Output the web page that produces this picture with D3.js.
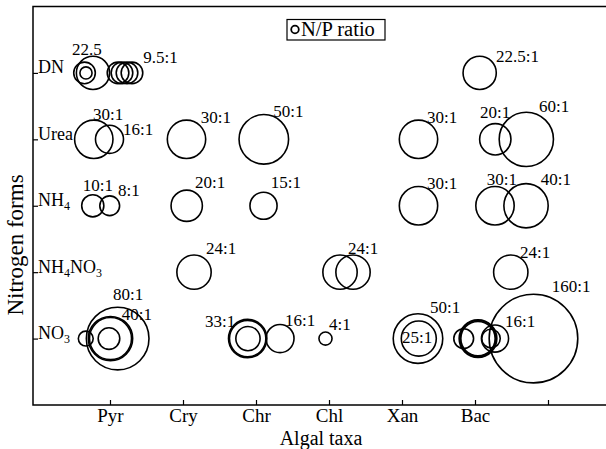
<!DOCTYPE html>
<html><head><meta charset="utf-8">
<script src="https://cdn.jsdelivr.net/npm/d3@7"></script>
<style>body{margin:0;background:#fff}svg{display:block}</style>
</head><body><svg id="c" width="606" height="449"></svg>
<script>
// ---- data ----
const taxa = ["Pyr", "Cry", "Chr", "Chl", "Xan", "Bac", ""];
const forms = ["NO3", "NH4NO3", "NH4", "Urea", "DN"]; // rows 1..5
// [x position in taxa units, N/P ratio]
const dnBubbles = [[0.767, 22.5], [0.651, 9.5], [0.671, 3], [1.110, 9.5], [1.164, 9.5], [1.233, 9.5], [1.301, 9.5], [6.064, 22.5]];
const ureaBubbles = [[0.778, 30], [0.993, 16], [2.048, 30], [3.107, 50], [5.226, 30], [6.278, 20], [6.703, 60]];
const nh4Bubbles = [[0.764, 10], [0.996, 8], [2.051, 20], [3.103, 15], [5.226, 30], [6.274, 30], [6.699, 40]];
const nh4no3Bubbles = [[2.151, 24], [4.151, 24], [4.329, 24], [6.490, 24]];
const no3Bubbles = [[0.668, 4.5], [1.105, 80], [1.007, 40], [1.007, 36], [0.986, 9.5], [2.886, 30], [2.886, 27], [2.890, 12], [3.329, 16], [3.952, 3.5], [5.219, 50], [5.230, 25], [5.845, 8], [6.041, 29], [6.041, 26.5], [6.041, 24], [6.219, 7], [6.274, 15], [6.801, 160]];
// annotation labels: [text, x (taxa units), y (row units)]
const ratioLabels = [
  ["22.5", 0.479, 5.269], ["9.5:1", 1.456, 5.144], ["22.5:1", 6.288, 5.169],
  ["30:1", 0.767, 4.291], ["16:1", 1.178, 4.065], ["30:1", 2.242, 4.246], ["50:1", 3.237, 4.341],
  ["30:1", 5.342, 4.246], ["20:1", 6.068, 4.321], ["60:1", 6.877, 4.416],
  ["10:1", 0.626, 3.222], ["8:1", 1.110, 3.151], ["20:1", 2.164, 3.267], ["15:1", 3.201, 3.267],
  ["30:1", 5.342, 3.252], ["30:1", 6.160, 3.312], ["40:1", 6.900, 3.312],
  ["24:1", 2.315, 2.273], ["24:1", 4.260, 2.273], ["24:1", 6.616, 2.213],
  ["80:1", 1.041, 1.581], ["40:1", 1.160, 1.280], ["33:1", 2.301, 1.179], ["16:1", 3.397, 1.189],
  ["4:1", 4.000, 1.129], ["50:1", 5.384, 1.390], ["25:1", 5.000, 0.933], ["16:1", 6.411, 1.170],
  ["160:1", 7.051, 1.706]
];
const legendLabel = "N/P ratio";
const xTitle = "Algal taxa", yTitle = "Nitrogen forms";

// ---- drawing ----
const svg = d3.select("#c");
svg.append("rect").attr("width", 606).attr("height", 449).attr("fill", "#fff");
const FONT = "'Liberation Serif','Times New Roman',serif";
const axisLeftX = 33, plotTop = 6.5, plotBottom = 405, plotRight = 640;
const x = d3.scaleLinear().domain([0, 8]).range([37, 37 + 8 * 73]);
const y = d3.scaleLinear().domain([0, 6]).range([plotBottom, plotTop]);
const r = d3.scaleSqrt().domain([0, 160]).range([0, 44.3]);

const rows = [no3Bubbles, nh4no3Bubbles, nh4Bubbles, ureaBubbles, dnBubbles];
const bubbles = rows.flatMap((arr, i) => arr.map(d => ({ x: d[0], v: d[1], row: i + 1 })));

// frame
svg.append("rect").attr("x", axisLeftX).attr("y", plotTop).attr("width", plotRight - axisLeftX).attr("height", plotBottom - plotTop)
  .attr("fill", "none").attr("stroke", "#000").attr("stroke-width", 1.5);

// x axis
const xAxis = svg.append("g").attr("transform", `translate(0,${plotBottom})`)
  .call(d3.axisBottom(x).tickValues(d3.range(1, 8)).tickFormat(i => taxa[i - 1]).tickSizeInner(-5).tickSizeOuter(0).tickPadding(4));
xAxis.select(".domain").remove();
xAxis.selectAll("line").attr("stroke-width", 1.2);
xAxis.selectAll("text").attr("font-family", FONT).attr("font-size", 19).attr("fill", "#000");

// y axis
const yAxis = svg.append("g").attr("transform", `translate(${axisLeftX},0)`)
  .call(d3.axisLeft(y).tickValues(d3.range(1, 6)).tickFormat(() => "").tickSizeInner(-5).tickSizeOuter(0));
yAxis.select(".domain").remove();
yAxis.selectAll("line").attr("stroke-width", 1.2);
yAxis.selectAll(".tick text").each(function (d) {
  const t = d3.select(this).attr("x", 5).attr("dy", "0.35em").attr("text-anchor", "start")
    .attr("font-family", FONT).attr("font-size", 18).attr("fill", "#000");
  const parts = forms[d - 1].match(/[A-Za-z]+|\d+/g);
  let prevSub = false;
  parts.forEach(p => {
    if (/^\d+$/.test(p)) { t.append("tspan").attr("font-size", 12).attr("dy", 4).text(p); prevSub = true; }
    else { t.append("tspan").attr("dy", prevSub ? -4 : 0).text(p); prevSub = false; }
  });
});

// bubbles
svg.append("g").selectAll("circle").data(bubbles).join("circle")
  .attr("cx", d => x(d.x)).attr("cy", d => y(d.row)).attr("r", d => r(d.v))
  .attr("fill", "none").attr("stroke", "#000").attr("stroke-width", 1.6);

// ratio labels
svg.append("g").selectAll("text").data(ratioLabels).join("text")
  .attr("x", d => x(d[1])).attr("y", d => y(d[2]))
  .attr("font-family", FONT).attr("font-size", 17).attr("fill", "#000").text(d => d[0]);

// legend
const lg = svg.append("g");
lg.append("rect").attr("x", 287).attr("y", 19.5).attr("width", 98).attr("height", 20.5)
  .attr("fill", "#fff").attr("stroke", "#000").attr("stroke-width", 1.2);
lg.append("circle").attr("cx", 295).attr("cy", 29.5).attr("r", 3.8).attr("fill", "none").attr("stroke", "#000").attr("stroke-width", 1.8);
lg.append("text").attr("x", 301).attr("y", 36).attr("font-family", FONT).attr("font-size", 20.5).attr("fill", "#000").text(legendLabel);

// titles
svg.append("text").attr("x", 321).attr("y", 444.5).attr("text-anchor", "middle")
  .attr("font-family", FONT).attr("font-size", 20).attr("fill", "#000").text(xTitle);
svg.append("text").attr("transform", "translate(23,245) rotate(-90)").attr("text-anchor", "middle")
  .attr("font-family", FONT).attr("font-size", 23).attr("fill", "#000").text(yTitle);
</script></body></html>
